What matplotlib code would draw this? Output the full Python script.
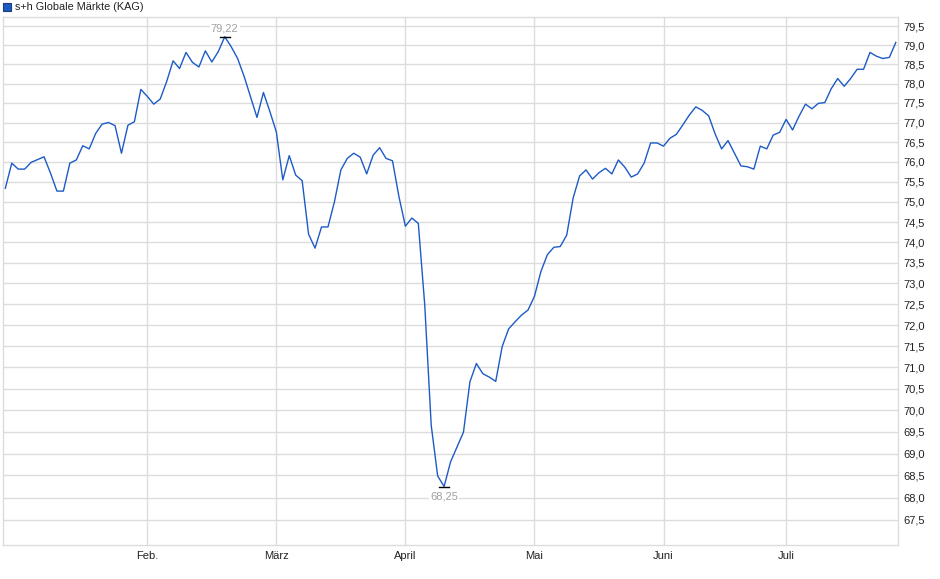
import matplotlib
matplotlib.use('Agg')
import matplotlib.pyplot as plt
from matplotlib.ticker import FixedLocator, NullLocator, FuncFormatter
from matplotlib.patches import Rectangle

plt.rcParams['font.family'] = ['Liberation Sans', 'DejaVu Sans']

series_name = 's+h Globale Märkte (KAG)'

values = [
    75.34, 75.97, 75.82, 75.82, 75.99, 76.06, 76.13, 75.72, 75.27, 75.27,
    75.97, 76.05, 76.41, 76.33, 76.72, 76.96, 77.00, 76.92, 76.22, 76.93,
    77.02, 77.85, 77.67, 77.47, 77.60, 78.05, 78.59, 78.39, 78.81, 78.55,
    78.43, 78.85, 78.56, 78.83, 79.22, 78.96, 78.65, 78.19, 77.66, 77.13,
    77.77, 77.28, 76.76, 75.55, 76.16, 75.67, 75.53, 74.20, 73.86, 74.38,
    74.38, 75.00, 75.80, 76.09, 76.22, 76.12, 75.70, 76.17, 76.36, 76.09,
    76.03, 75.13, 74.40, 74.60, 74.47, 72.48, 69.65, 68.49, 68.25, 68.81,
    69.15, 69.49, 70.66, 71.09, 70.85, 70.77, 70.67, 71.49, 71.91, 72.08,
    72.24, 72.36, 72.69, 73.29, 73.70, 73.88, 73.90, 74.18, 75.10, 75.65,
    75.80, 75.57, 75.73, 75.84, 75.70, 76.05, 75.87, 75.62, 75.70, 75.97,
    76.48, 76.48, 76.40, 76.60, 76.70, 76.94, 77.19, 77.40, 77.31, 77.17,
    76.71, 76.33, 76.54, 76.22, 75.90, 75.88, 75.82, 76.40, 76.33, 76.68,
    76.75, 77.08, 76.81, 77.16, 77.47, 77.35, 77.49, 77.51, 77.87, 78.13,
    77.93, 78.13, 78.37, 78.37, 78.81, 78.71, 78.65, 78.68, 79.07,
]

month_labels = ['Feb.', 'März', 'April', 'Mai', 'Juni', 'Juli']
month_index = [22, 42, 62, 82, 102, 121]

y_ticks = [67.5, 68.0, 68.5, 69.0, 69.5, 70.0, 70.5, 71.0, 71.5, 72.0, 72.5,
           73.0, 73.5, 74.0, 74.5, 75.0, 75.5, 76.0, 76.5, 77.0, 77.5, 78.0,
           78.5, 79.0, 79.5]

W, H = 940, 579
fig = plt.figure(figsize=(W / 100, H / 100), dpi=100)
left_px, right_px, top_px, bottom_px = 3, 898, 17, 545
ax = fig.add_axes([left_px / W, 1 - bottom_px / H,
                   (right_px - left_px) / W, (bottom_px - top_px) / H])

line_color = '#1c5bc6'
grid_color = '#dcdcdc'

x = list(range(len(values)))
ax.plot(x, values, color=line_color, lw=1.0, zorder=3)

ax.set_yscale('log')
ax.set_ylim(66.94, 79.74)
ax.set_xlim(-0.36, 138.34)

ax.yaxis.set_major_locator(FixedLocator(y_ticks))
ax.yaxis.set_minor_locator(NullLocator())
ax.yaxis.set_major_formatter(FuncFormatter(lambda v, p: f'{v:.1f}'.replace('.', ',')))
ax.yaxis.tick_right()
ax.tick_params(axis='y', length=0, pad=4, labelsize=8, labelcolor='#222222')

ax.xaxis.set_major_locator(FixedLocator(month_index))
ax.xaxis.set_minor_locator(NullLocator())
ax.set_xticklabels(month_labels)
ax.tick_params(axis='x', length=0, pad=4, labelsize=8, labelcolor='#222222')

ax.grid(True, which='major', color=grid_color, lw=1.0, zorder=0)
for s in ax.spines.values():
    s.set_color(grid_color)
    s.set_linewidth(1.0)

# max / min annotations
imax = max(range(len(values)), key=lambda i: values[i])
imin = min(range(len(values)), key=lambda i: values[i])
for i, off, va in [(imax, 2.3, 'bottom'), (imin, -3.5, 'top')]:
    v = values[i]
    ax.plot([i - 0.77, i + 0.77], [v, v], color='black', lw=1.0, zorder=4)
    ax.annotate(f'{v:.2f}'.replace('.', ','), xy=(i, v), xytext=(0, off),
                textcoords='offset points', ha='center', va=va,
                fontsize=8, color='#a0a0a0', zorder=5,
                bbox=dict(boxstyle='square,pad=0.1', fc='white', ec='none'))

# legend
fig.patches.append(Rectangle((3 / W, 1 - 11 / H), 8 / W, 8 / H,
                             transform=fig.transFigure, facecolor=line_color,
                             edgecolor='#1a3a7a', lw=0.8))
fig.text(15 / W, 1 - 7 / H, series_name, ha='left', va='center',
         fontsize=7.8, color='#222222')

fig.savefig('out.png', dpi=100)
